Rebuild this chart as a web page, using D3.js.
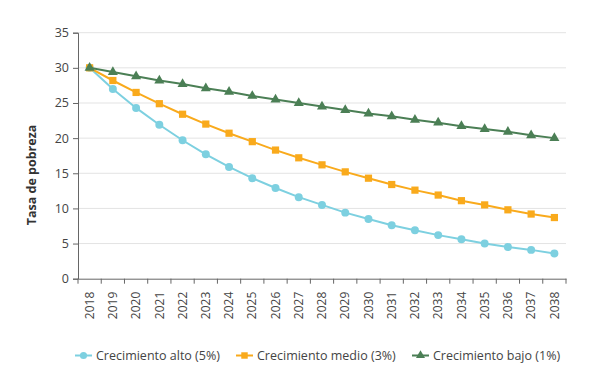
<!DOCTYPE html>
<html><head><meta charset="utf-8">
<script src="https://cdn.jsdelivr.net/npm/d3@7"></script>
<style>body{margin:0;background:#fff}svg{display:block}text{font-family:"Open Sans",sans-serif}</style>
</head><body><svg id="c" width="604" height="380"></svg>
<script>
const years = ["2018","2019","2020","2021","2022","2023","2024","2025","2026","2027","2028","2029","2030","2031","2032","2033","2034","2035","2036","2037","2038"];
const alto  = [30,27.0,24.3,21.9,19.7,17.7,15.9,14.3,12.9,11.6,10.5,9.4,8.5,7.6,6.9,6.2,5.6,5.0,4.5,4.1,3.6];
const medio = [30,28.2,26.5,24.9,23.4,22.0,20.7,19.5,18.3,17.2,16.2,15.2,14.3,13.4,12.6,11.9,11.1,10.5,9.8,9.2,8.7];
const bajo  = [30,29.4,28.8,28.2,27.7,27.1,26.6,26.0,25.5,25.0,24.5,24.0,23.5,23.1,22.6,22.2,21.7,21.3,20.9,20.4,20.0];
const yTicks = [0,5,10,15,20,25,30,35];
const seriesNames = ["Crecimiento alto (5%)","Crecimiento medio (3%)","Crecimiento bajo (1%)"];

const svg = d3.select("#c");
const x = d3.scaleBand().domain(years).range([78,566]);
const y = d3.scaleLinear().domain([0,35]).range([278.7,32.7]);

// grid
svg.append("g").selectAll("line").data(yTicks.filter(d=>d>0)).join("line")
  .attr("x1",78).attr("x2",566).attr("y1",d=>y(d)).attr("y2",d=>y(d))
  .attr("stroke","#e3e3e3").attr("stroke-width",1);

// y axis
const ya = svg.append("g").attr("transform","translate(78,0)")
  .call(d3.axisLeft(y).tickValues(yTicks).tickSize(5).tickPadding(4));
ya.select(".domain").attr("stroke","#666");
ya.selectAll(".tick line").attr("stroke","#666");
ya.selectAll("text").attr("fill","#444").style("font-size","12.5px").style("font-family","'Open Sans',sans-serif");

// x axis
const xa = svg.append("g").attr("transform","translate(0,278.7)")
  .call(d3.axisBottom(x).tickSize(0).tickPadding(0));
xa.select(".domain").attr("stroke","#666");
xa.selectAll(".tick text").attr("transform","translate(0,13) rotate(-90)")
  .attr("text-anchor","end").attr("dy","0.35em").attr("x",0).attr("y",0)
  .attr("fill","#444").style("font-size","12px").style("font-family","'Open Sans',sans-serif");
const bounds = years.map(d=>x(d)).concat([x.range()[1]]);
svg.append("g").selectAll("line").data(bounds).join("line")
  .attr("x1",d=>d).attr("x2",d=>d).attr("y1",278.7).attr("y2",283.7).attr("stroke","#666");

// y title
svg.append("text").attr("transform","translate(36,175) rotate(-90)")
  .attr("text-anchor","middle").attr("font-weight","bold").attr("fill","#333")
  .style("font-size","12.5px").text("Tasa de pobreza");

const cx = d => x(d) + x.bandwidth()/2;
const colors = ["#7dd0e0","#f9aa1c","#4b7f55"];
const data = [alto, medio, bajo];
const line = d3.line().x((d,i)=>cx(years[i])).y(d=>y(d));
const sym = [d3.symbolCircle, d3.symbolSquare, d3.symbolTriangle];
const sz = [50, 52, 44];

data.forEach((s,k)=>{
  svg.append("path").datum(s).attr("d",line).attr("fill","none")
    .attr("stroke",colors[k]).attr("stroke-width",2);
  svg.append("g").selectAll("path").data(s).join("path")
    .attr("transform",(d,i)=>`translate(${cx(years[i])},${y(d)})`)
    .attr("d",d3.symbol().type(sym[k]).size(sz[k])).attr("fill",colors[k]);
});

// legend
const lx = [75, 236, 412];
seriesNames.forEach((n,k)=>{
  const g = svg.append("g").attr("transform",`translate(${lx[k]},355.5)`);
  g.append("line").attr("x1",0).attr("x2",17).attr("stroke",colors[k]).attr("stroke-width",2);
  g.append("path").attr("transform","translate(8.5,0)").attr("d",d3.symbol().type(sym[k]).size(sz[k]*0.8)).attr("fill",colors[k]);
  g.append("text").attr("x",21).attr("dy","0.35em").attr("fill","#444").style("font-size","12.5px").text(n);
});
</script></body></html>
